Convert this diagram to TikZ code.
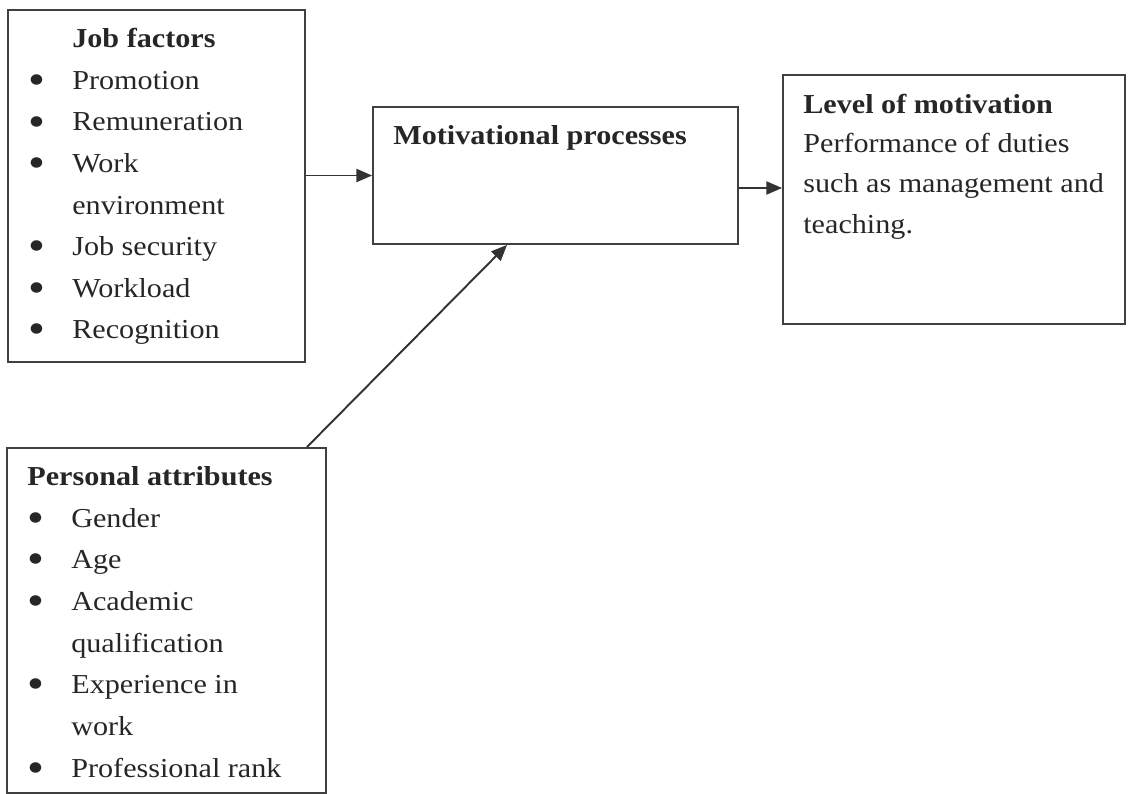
\documentclass[tikz,border=0pt]{standalone}
\usepackage{fontspec}
\setmainfont{Liberation Serif}[FakeStretch=1.1]
\usetikzlibrary{arrows.meta}
\tikzstyle{box}=[rectangle, draw=black!75, line width=1.1pt, inner sep=0pt]
\tikzstyle{arrow}=[-{Triangle[length=9pt,width=7.5pt]}, line width=1.1pt, draw=black!80]
\tikzstyle{entry}=[anchor=base west, inner sep=0pt, text=black!85, font=\fontsize{15.6}{18}\selectfont]
\newcommand{\bul}[1]{\makebox[0.88cm][l]{#1}}
\newcommand{\dotmark}{\raisebox{-0.2em}{\scalebox{1.6}{\textbullet}}}

\begin{document}
\begin{tikzpicture}[x=0.02cm, y=-0.02cm]
  \useasboundingbox (0,0) rectangle (1129,794);

  % the four boxes
  \node[box, minimum width=5.94cm, minimum height=7.04cm] (jobs) at (156.5,186) {};
  \node[box, minimum width=7.3cm, minimum height=2.74cm] (motiv) at (555.5,175.5) {};
  \node[box, minimum width=6.84cm, minimum height=4.98cm] (level) at (954,199.5) {};
  \node[box, minimum width=6.38cm, minimum height=6.9cm] (pers) at (166.5,620.5) {};

  % job factors
  \foreach \yy/\mk/\txt [count=\i] in {48//\textbf{Job factors},
      89.5/\dotmark/Promotion, 131/\dotmark/Remuneration,
      172.5/\dotmark/Work, 214//environment,
      255.5/\dotmark/Job security, 297/\dotmark/Workload,
      338.5/\dotmark/Recognition}
    \node[entry] (jf\i) at (28,\yy) {\bul{\mk}\txt};

  % personal attributes
  \node[entry] (pa0) at (27,485) {\textbf{Personal attributes}};
  \foreach \yy/\mk/\txt [count=\i] in {527/\dotmark/Gender,
      568.5/\dotmark/Age, 610/\dotmark/Academic,
      652//qualification, 693.5/\dotmark/Experience in,
      735//work, 777/\dotmark/Professional rank}
    \node[entry] (pa\i) at (27,\yy) {\bul{\mk}\txt};

  % middle and right
  \node[entry] (mp) at (393,145) {\textbf{Motivational processes}};
  \foreach \yy/\txt [count=\i] in {113/\textbf{Level of motivation},
      153/Performance of duties, 193/such as management and,
      233/teaching.}
    \node[entry] (lm\i) at (803,\yy) {\txt};

  % arrows
  \draw[arrow] (jobs.east |- motiv.west) -- (motiv.west);
  \draw[arrow] (motiv.east) ++(0,12.5) coordinate (m2) -- (m2 -| level.west);
  \draw[arrow] ([xshift=-0.4cm]pers.north east) -- ([xshift=-0.97cm]motiv.south);
\end{tikzpicture}
\end{document}
